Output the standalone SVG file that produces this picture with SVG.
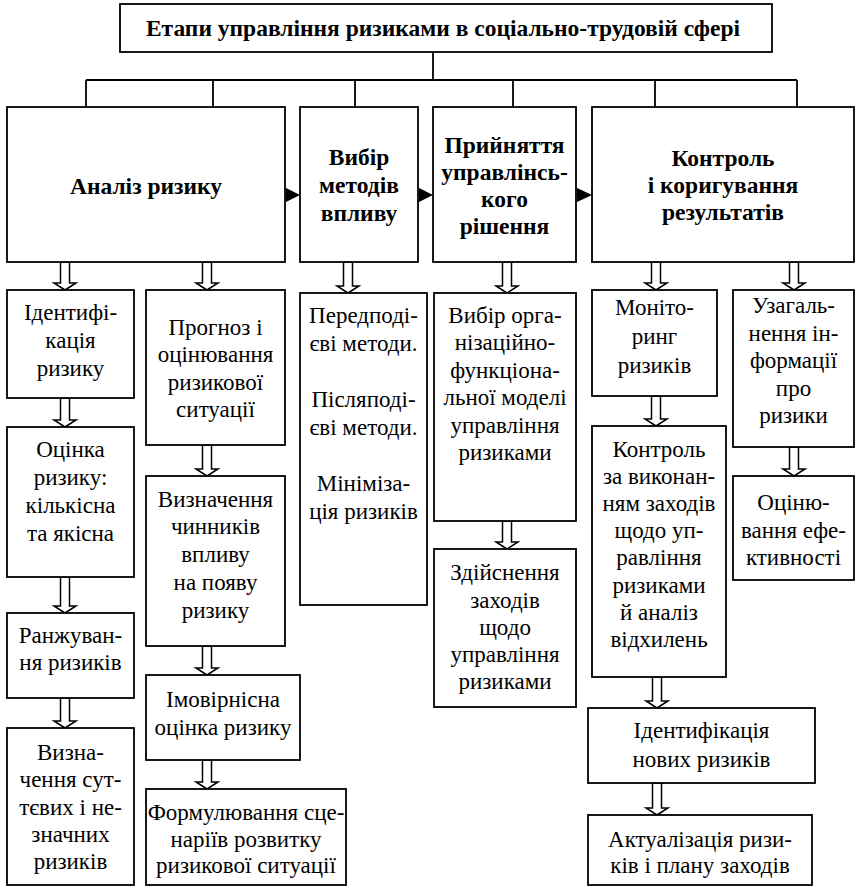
<svg xmlns="http://www.w3.org/2000/svg" width="857" height="890" viewBox="0 0 857 890">
<defs>
<style>
.box{fill:#fff;stroke:#000;stroke-width:1.8}
.ln{fill:none;stroke:#000;stroke-width:1.8}
.arr{fill:#fff;stroke:#000;stroke-width:1.5;stroke-linejoin:miter}
.tri{fill:#000;stroke:none}
text{font-family:"Liberation Serif","Times New Roman",serif;font-size:23px;fill:#000;text-anchor:middle}
.b{font-weight:bold;font-size:23.5px}
</style>
</defs>
<rect width="857" height="890" fill="#fff"/>

<g id="connectors">
<path class="ln" d="M433 52V80M86 80H797M86 80V107M213 80V107M355 80V107M513 80V107M655 80V107M797 80V107"/>
<polygon class="tri" points="286,188 300,195 286,202"/>
<polygon class="tri" points="419,188 433,195 419,202"/>
<polygon class="tri" points="577,188 592,195 577,202"/>
<polygon class="arr" points="60.5,262 69.5,262 69.5,283 76,283 65,290 54,283 60.5,283"/>
<polygon class="arr" points="60.5,398 69.5,398 69.5,420 76,420 65,427 54,420 60.5,420"/>
<polygon class="arr" points="60.5,577 69.5,577 69.5,606 76,606 65,613 54,606 60.5,606"/>
<polygon class="arr" points="60.5,698 69.5,698 69.5,721 76,721 65,728 54,721 60.5,721"/>
<polygon class="arr" points="202.5,262 211.5,262 211.5,283 218,283 207,290 196,283 202.5,283"/>
<polygon class="arr" points="202.5,445 211.5,445 211.5,469 218,469 207,476 196,469 202.5,469"/>
<polygon class="arr" points="202.5,646 211.5,646 211.5,668 218,668 207,675 196,668 202.5,668"/>
<polygon class="arr" points="202.5,760 211.5,760 211.5,782 218,782 207,789 196,782 202.5,782"/>
<polygon class="arr" points="343.5,262 352.5,262 352.5,286 359,286 348,293 337,286 343.5,286"/>
<polygon class="arr" points="502.5,262 511.5,262 511.5,286 518,286 507,293 496,286 502.5,286"/>
<polygon class="arr" points="502.5,521 511.5,521 511.5,542 518,542 507,549 496,542 502.5,542"/>
<polygon class="arr" points="651.5,262 660.5,262 660.5,283 667,283 656,290 645,283 651.5,283"/>
<polygon class="arr" points="651.5,396 660.5,396 660.5,419 667,419 656,426 645,419 651.5,419"/>
<polygon class="arr" points="652.5,677 661.5,677 661.5,701 668,701 657,708 646,701 652.5,701"/>
<polygon class="arr" points="652.5,783 661.5,783 661.5,808 668,808 657,815 646,808 652.5,808"/>
<polygon class="arr" points="789.5,262 798.5,262 798.5,283 805,283 794,290 783,283 789.5,283"/>
<polygon class="arr" points="789.5,447 798.5,447 798.5,469 805,469 794,476 783,469 789.5,469"/>
</g>

<g id="title">
<rect class="box" x="120" y="4" width="652" height="48"/>
<text class="b" x="443" y="36">Етапи управління ризиками в соціально-трудовій сфері</text>
</g>

<g id="analiz">
<rect class="box" x="7" y="107" width="278" height="155"/>
<text class="b" x="146" y="194">Аналіз ризику</text>
</g>

<g id="vybir">
<rect class="box" x="300" y="107" width="118" height="155"/>
<text class="b" x="359" y="165">Вибір</text>
<text class="b" x="359" y="193">методів</text>
<text class="b" x="359" y="221">впливу</text>
</g>

<g id="pryiniattia">
<rect class="box" x="433" y="107" width="143" height="155"/>
<text class="b" x="504.5" y="153">Прийняття</text>
<text class="b" x="504.5" y="180">управлінсь-</text>
<text class="b" x="504.5" y="207">кого</text>
<text class="b" x="504.5" y="234">рішення</text>
</g>

<g id="kontrol">
<rect class="box" x="592" y="107" width="262" height="155"/>
<text class="b" x="723" y="166">Контроль</text>
<text class="b" x="723" y="193">і коригування</text>
<text class="b" x="723" y="220">результатів</text>
</g>

<g id="identyfikatsiia">
<rect class="box" x="7" y="290" width="127" height="108"/>
<text x="70.5" y="320">Ідентифі-</text>
<text x="70.5" y="348">кація</text>
<text x="70.5" y="376">ризику</text>
</g>

<g id="otsinka">
<rect class="box" x="7" y="427" width="127" height="150"/>
<text x="70.5" y="457">Оцінка</text>
<text x="70.5" y="485">ризику:</text>
<text x="70.5" y="513">кількісна</text>
<text x="70.5" y="541">та якісна</text>
</g>

<g id="ranzhuvannia">
<rect class="box" x="7" y="613" width="127" height="85"/>
<text x="70.5" y="643">Ранжуван-</text>
<text x="70.5" y="670">ня ризиків</text>
</g>

<g id="vyznachennia-suttievykh">
<rect class="box" x="7" y="728" width="127" height="157"/>
<text x="70.5" y="760">Визна-</text>
<text x="70.5" y="787">чення сут-</text>
<text x="70.5" y="815">тєвих і не-</text>
<text x="70.5" y="842">значних</text>
<text x="70.5" y="869">ризиків</text>
</g>

<g id="prohnoz">
<rect class="box" x="146" y="290" width="139" height="155"/>
<text x="215.5" y="335">Прогноз і</text>
<text x="215.5" y="362">оцінювання</text>
<text x="215.5" y="390">ризикової</text>
<text x="215.5" y="417">ситуації</text>
</g>

<g id="vyznachennia-chynnykiv">
<rect class="box" x="146" y="476" width="139" height="170"/>
<text x="215.5" y="507">Визначення</text>
<text x="215.5" y="534">чинників</text>
<text x="215.5" y="562">впливу</text>
<text x="215.5" y="590">на появу</text>
<text x="215.5" y="618">ризику</text>
</g>

<g id="imovirnisna">
<rect class="box" x="146" y="675" width="154" height="85"/>
<text x="223" y="707">Імовірнісна</text>
<text x="223" y="735">оцінка ризику</text>
</g>

<g id="formuliuvannia">
<rect class="box" x="146" y="789" width="200" height="96"/>
<text x="246" y="820">Формулювання сце-</text>
<text x="246" y="847">наріїв розвитку</text>
<text x="246" y="873">ризикової ситуації</text>
</g>

<g id="metody">
<rect class="box" x="300" y="293" width="127" height="312"/>
<text x="363.5" y="323">Передподі-</text>
<text x="363.5" y="351">єві методи.</text>
<text x="363.5" y="407">Післяподі-</text>
<text x="363.5" y="435">єві методи.</text>
<text x="363.5" y="491">Мініміза-</text>
<text x="363.5" y="519">ція ризиків</text>
</g>

<g id="vybir-modeli">
<rect class="box" x="434" y="293" width="142" height="228"/>
<text x="505" y="323">Вибір орга-</text>
<text x="505" y="350">нізаційно-</text>
<text x="505" y="378">функціона-</text>
<text x="505" y="405">льної моделі</text>
<text x="505" y="433">управління</text>
<text x="505" y="460">ризиками</text>
</g>

<g id="zdiisnennia">
<rect class="box" x="434" y="549" width="142" height="158"/>
<text x="505" y="580">Здійснення</text>
<text x="505" y="608">заходів</text>
<text x="505" y="635">щодо</text>
<text x="505" y="662">управління</text>
<text x="505" y="689">ризиками</text>
</g>

<g id="monitorynh">
<rect class="box" x="592" y="290" width="125" height="106"/>
<text x="654.5" y="315">Моніто-</text>
<text x="654.5" y="344">ринг</text>
<text x="654.5" y="373">ризиків</text>
</g>

<g id="kontrol-vykonannia">
<rect class="box" x="592" y="426" width="134" height="251"/>
<text x="659" y="457">Контроль</text>
<text x="659" y="484">за виконан-</text>
<text x="659" y="511">ням заходів</text>
<text x="659" y="538">щодо уп-</text>
<text x="659" y="565">равління</text>
<text x="659" y="593">ризиками</text>
<text x="659" y="620">й аналіз</text>
<text x="659" y="647">відхилень</text>
</g>

<g id="identyfikatsiia-novykh">
<rect class="box" x="588" y="708" width="227" height="75"/>
<text x="701.5" y="738">Ідентифікація</text>
<text x="701.5" y="767">нових ризиків</text>
</g>

<g id="aktualizatsiia">
<rect class="box" x="588" y="815" width="224" height="70"/>
<text x="700" y="847">Актуалізація ризи-</text>
<text x="700" y="873">ків і плану заходів</text>
</g>

<g id="uzahalnennia">
<rect class="box" x="733" y="290" width="121" height="157"/>
<text x="793.5" y="313">Узагаль-</text>
<text x="793.5" y="341">нення ін-</text>
<text x="793.5" y="368">формації</text>
<text x="793.5" y="396">про</text>
<text x="793.5" y="423">ризики</text>
</g>

<g id="otsiniuvannia">
<rect class="box" x="733" y="476" width="121" height="104"/>
<text x="793.5" y="510">Оціню-</text>
<text x="793.5" y="538">вання ефе-</text>
<text x="793.5" y="565">ктивності</text>
</g>
</svg>
